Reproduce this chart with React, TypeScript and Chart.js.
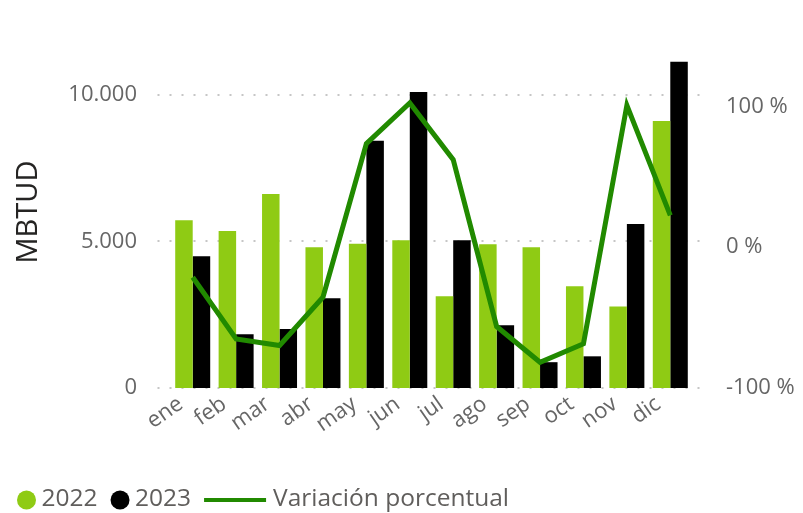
import React, { useEffect, useRef } from "react";
import { Chart, registerables } from "chart.js";

Chart.register(...registerables);

const months = ["ene", "feb", "mar", "abr", "may", "jun", "jul", "ago", "sep", "oct", "nov", "dic"];
const values2022 = [5720, 5350, 6610, 4800, 4920, 5040, 3130, 4900, 4800, 3470, 2780, 9100];
const values2023 = [4490, 1830, 2010, 3060, 8430, 10090, 5040, 2140, 880, 1080, 5590, 11120];
const variation = [-21.3, -65.1, -69.8, -35.5, 73.6, 102.5, 62.2, -56.3, -81.7, -68.6, 100.8, 22.6];

const leftTickValues = [0, 5000, 10000];
const leftTickLabels = ["0", "5.000", "10.000"];
const rightTickValues = [-100, 0, 100];
const rightTickLabels = ["-100 %", "0 %", "100 %"];

const seriesNames = ["2022", "2023", "Variación porcentual"];

const GREEN = "#8fcb14";
const BLACK = "#000000";
const LINE = "#218a00";
const FONT = "'Segoe UI', 'Open Sans', sans-serif";
const TEXT = "#666666";

const gridPlugin = {
  id: "dottedGrid",
  beforeDatasetsDraw(chart: any) {
    const { ctx, chartArea } = chart;
    const y = chart.scales.y;
    ctx.save();
    ctx.strokeStyle = "#c6c6c6";
    ctx.lineWidth = 2;
    ctx.setLineDash([2, 10]);
    for (const v of leftTickValues) {
      const py = Math.round(y.getPixelForValue(v));
      ctx.beginPath();
      ctx.moveTo(chartArea.left - 13.5, py);
      ctx.lineTo(chartArea.right + 14, py);
      ctx.stroke();
    }
    ctx.restore();
  },
};

const legendPlugin = {
  id: "bottomLegend",
  afterDraw(chart: any) {
    const { ctx } = chart;
    const ds = chart.data.datasets;
    const cy = 500;
    ctx.save();
    ctx.font = `24.5px ${FONT}`;
    ctx.textBaseline = "middle";
    ctx.textAlign = "left";
    let x = 17;
    const items = [ds[1], ds[2], ds[0]];
    items.forEach((d: any) => {
      if (d.type === "line") {
        ctx.strokeStyle = d.borderColor;
        ctx.lineWidth = 4;
        ctx.beginPath();
        ctx.moveTo(x, cy);
        ctx.lineTo(x + 62, cy);
        ctx.stroke();
        x += 62 + 7;
      } else {
        ctx.fillStyle = d.backgroundColor;
        ctx.beginPath();
        ctx.arc(x + 9.5, cy, 9.5, 0, Math.PI * 2);
        ctx.fill();
        x += 19 + 5.5;
      }
      ctx.fillStyle = "#605e5c";
      ctx.fillText(d.label, x, cy - 1);
      x += ctx.measureText(d.label).width + 13;
    });
    ctx.restore();
  },
};

const zeroPad = (s: any) => {
  s.paddingTop = 0;
  s.paddingBottom = 0;
  s.paddingLeft = 0;
  s.paddingRight = 0;
};

export default function App() {
  const ref = useRef<HTMLCanvasElement | null>(null);

  useEffect(() => {
    document.body.style.margin = "0";
    document.body.style.overflow = "hidden";
    const canvas = ref.current;
    if (!canvas) return;
    const chart = new Chart(canvas, {
      type: "bar",
      data: {
        labels: months,
        datasets: [
          {
            type: "line",
            label: seriesNames[2],
            data: variation,
            yAxisID: "y1",
            borderColor: LINE,
            backgroundColor: LINE,
            borderWidth: 5,
            pointRadius: 0,
            tension: 0,
            order: 0,
          } as any,
          {
            type: "bar",
            label: seriesNames[0],
            data: values2022,
            yAxisID: "y",
            backgroundColor: GREEN,
            categoryPercentage: 0.806,
            barPercentage: 1,
            order: 1,
          },
          {
            type: "bar",
            label: seriesNames[1],
            data: values2023,
            yAxisID: "y",
            backgroundColor: BLACK,
            categoryPercentage: 0.806,
            barPercentage: 1,
            order: 1,
          },
        ],
      },
      options: {
        responsive: false,
        animation: false,
        layout: { padding: { top: 36, left: 0, right: 0, bottom: 0 } },
        plugins: {
          legend: { display: false },
          tooltip: { enabled: false },
        },
        scales: {
          x: {
            grid: { display: false, drawTicks: false },
            border: { display: false },
            ticks: {
              font: { family: FONT, size: 22 },
              color: TEXT,
              minRotation: 35,
              maxRotation: 35,
              autoSkip: false,
              padding: 3,
              labelOffset: -12,
            },
            afterFit: (s: any) => {
              s.height = 125;
              zeroPad(s);
            },
          },
          y: {
            position: "left",
            min: 0,
            max: 12000,
            grid: { display: false, drawTicks: false },
            border: { display: false },
            afterBuildTicks: (s: any) => {
              s.ticks = leftTickValues.map((v) => ({ value: v }));
            },
            ticks: {
              font: { family: FONT, size: 22 },
              color: TEXT,
              padding: 34,
              callback: (v: any) => {
                const i = leftTickValues.indexOf(Number(v));
                return i >= 0 ? leftTickLabels[i] : "";
              },
            },
            title: {
              display: true,
              text: "MBTUD",
              color: "#252423",
              font: { family: FONT, size: 29 },
              padding: { top: 11, bottom: 0 },
            },
            afterFit: (s: any) => {
              s.width = 171;
              zeroPad(s);
            },
          },
          y1: {
            position: "right",
            min: -100,
            max: 150,
            grid: { display: false, drawTicks: false },
            border: { display: false },
            afterBuildTicks: (s: any) => {
              s.ticks = rightTickValues.map((v) => ({ value: v }));
            },
            ticks: {
              font: { family: FONT, size: 22 },
              color: TEXT,
              padding: 34,
              callback: (v: any) => {
                const i = rightTickValues.indexOf(Number(v));
                return i >= 0 ? rightTickLabels[i] : "";
              },
            },
            afterFit: (s: any) => {
              s.width = 111;
              zeroPad(s);
            },
          },
        },
      },
      plugins: [gridPlugin, legendPlugin],
    });
    return () => chart.destroy();
  }, []);

  return (
    <canvas
      ref={ref}
      width={803}
      height={513}
      style={{ display: "block", width: 803, height: 513 }}
    />
  );
}
